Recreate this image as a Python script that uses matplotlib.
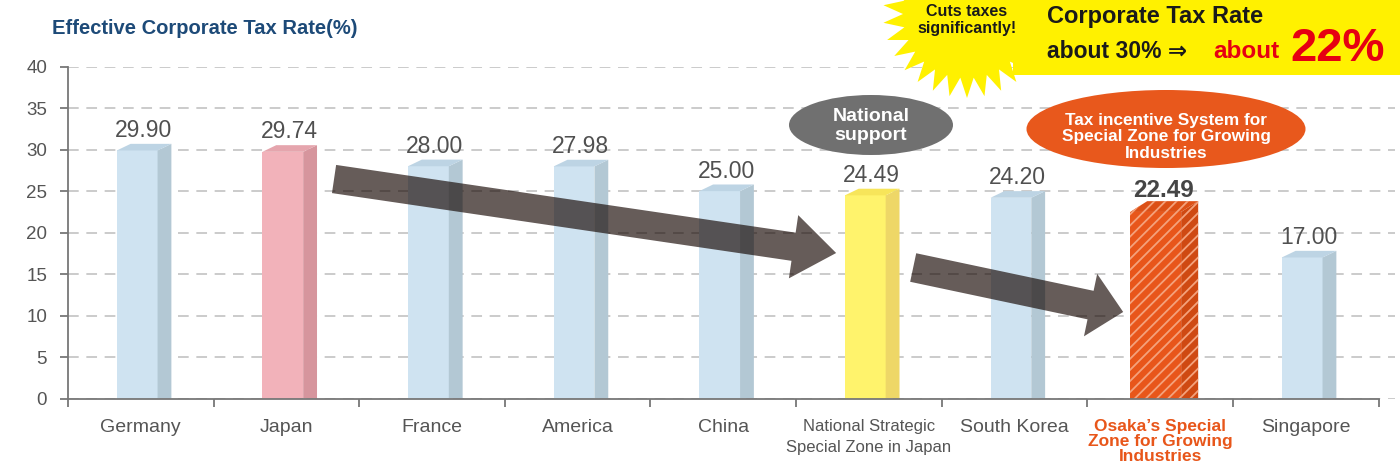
import numpy as np
import matplotlib.pyplot as plt
from matplotlib.patches import Polygon, Ellipse, Rectangle

plt.rcParams['font.family'] = ['Liberation Sans', 'DejaVu Sans']
plt.rcParams['hatch.linewidth'] = 1.3

# data
countries = ['Germany', 'Japan', 'France', 'America', 'China',
             'National Strategic\nSpecial Zone in Japan', 'South Korea',
             'Osaka\u2019s Special\nZone for Growing\nIndustries', 'Singapore']
tax_rates = [29.90, 29.74, 28.00, 27.98, 25.00, 24.49, 24.20, 22.49, 17.00]
y_ticks = [0, 5, 10, 15, 20, 25, 30, 35, 40]
title = 'Effective Corporate Tax Rate(%)'

# bar colours: front, side, top
blue = ('#cfe3f1', '#b3c8d4', '#bdd4e4')
pink = ('#f2b2ba', '#d6959d', '#e5a5ad')
yellow = ('#fff36c', '#eed767', '#f7e55a')
orange = ('#e8561a', '#cf4912', '#dc5016')
bar_colors = [blue, pink, blue, blue, blue, yellow, blue, orange, blue]
osaka = 7

fig = plt.figure(figsize=(14, 4.7), dpi=100)
ax = fig.add_axes([68 / 1400, (470 - 398.5) / 470, (1395 - 68) / 1400, (398.5 - 66.7) / 470])
x = np.arange(len(countries))
ax.set_xlim(-0.5, 8.5 + (1395 - 1378.6) / 145.6)
ax.set_ylim(0, 40)

# pseudo 3d bars
for i, v in enumerate(tax_rates):
    front, side, top = bar_colors[i]
    big = i == osaka
    fw = 0.35 if big else 0.28
    sw = 0.117 if big else 0.095
    dy = 1.3 if big else 0.8
    xl = i - (0.206 if big else 0.165)
    xr = xl + fw
    hatch = '///' if big else None
    ec = '#f4a27c' if big else 'none'
    ax.bar(xl, v, width=fw, align='edge', color=front, hatch=hatch,
           edgecolor=ec, linewidth=0, zorder=2)
    ax.add_patch(Polygon([(xr, 0), (xr + sw, 0), (xr + sw, v + dy), (xr, v)],
                         facecolor=side, hatch=hatch, edgecolor=ec, linewidth=0, zorder=2))
    ax.add_patch(Polygon([(xl, v), (xr, v), (xr + sw, v + dy), (xl + sw, v + dy)],
                         facecolor=top, hatch=hatch, edgecolor=ec, linewidth=0, zorder=2))
    if big:
        ax.text(i + 0.02, v + 2.6, f'{v:.2f}', ha='center', va='center',
                fontsize=17.5, fontweight='bold', color='#454545', zorder=4)
    else:
        ax.text(i + 0.02, v + 2.4, f'{v:.2f}', ha='center', va='center',
                fontsize=16.5, color='#505050', zorder=4)

# arrows
arrow_kw = dict(arrowstyle='simple,head_length=31,head_width=46,tail_width=20.5',
                mutation_scale=1, color='#140500', alpha=0.65, lw=0,
                shrinkA=0, shrinkB=0)
ax.annotate('', xy=(4.775, 17.54), xytext=(1.327, 26.46), arrowprops=arrow_kw, zorder=3)
arrow_kw['arrowstyle'] = 'simple,head_length=24,head_width=46,tail_width=21'
ax.annotate('', xy=(6.746, 10.43), xytext=(5.304, 15.79), arrowprops=arrow_kw, zorder=3)

# axes styling
ax.set_axisbelow(True)
ax.grid(axis='y', color='#bdbdbd', lw=1.1, ls=(0, (7, 5)))
for s in ['top', 'right']:
    ax.spines[s].set_visible(False)
for s in ['left', 'bottom']:
    ax.spines[s].set_color('#777777')
    ax.spines[s].set_linewidth(1.3)
ax.spines['bottom'].set_bounds(-0.5, 8.5)
ax.set_yticks(y_ticks)
ax.set_xticks(np.arange(-0.5, 9, 1))
ax.set_xticklabels([])
ax.set_xticks(x, countries, minor=True)
ax.tick_params(axis='y', length=6, width=1.3, color='#777777', labelsize=13.5,
               labelcolor='#555555', pad=9)
ax.tick_params(axis='x', which='major', length=6, width=1.3, color='#777777')
ax.tick_params(axis='x', which='minor', length=0, pad=15, labelsize=14,
               labelcolor='#555555')
labels = ax.get_xticklabels(minor=True)
labels[5].set_fontsize(12)
labels[5].set_linespacing(1.5)
labels[osaka].set_color('#e8561a')
labels[osaka].set_fontweight('bold')
labels[osaka].set_fontsize(12.5)
labels[osaka].set_linespacing(1.0)

fig.text(52 / 1400, 1 - 28 / 470, title, color='#1d4a78', fontsize=14.5,
         fontweight='bold', va='center')

# decorations in pixel space
deco = fig.add_axes([0, 0, 1, 1], zorder=5)
deco.set_xlim(0, 1400)
deco.set_ylim(470, 0)
deco.axis('off')

n = 30
ang = np.linspace(0, 2 * np.pi, 2 * n, endpoint=False) + np.pi / 2
rad = np.where(np.arange(2 * n) % 2 == 0, 84, 64)
deco.add_patch(Polygon(np.column_stack([967 + rad * np.cos(ang), 14 + rad * np.sin(ang)]),
                       color='#fff100', lw=0))
deco.add_patch(Rectangle((1013, 0), 387, 75, color='#fff100', lw=0))
deco.text(967, 20, 'Cuts taxes\nsignificantly!', ha='center', va='center',
          fontsize=11.5, fontweight='bold', color='#1a1a1a', linespacing=1.15)
deco.text(1047, 17, 'Corporate Tax Rate', ha='left', va='center', fontsize=17,
          fontweight='bold', color='#1a1a1a')
deco.text(1047, 58, 'about 30% \u21d2', ha='left', va='baseline', fontsize=16.5,
          fontweight='bold', color='#1a1a1a')
deco.text(1213, 58, 'about', ha='left', va='baseline', fontsize=17.5,
          fontweight='bold', color='#e60012')
deco.text(1290, 61, '22%', ha='left', va='baseline', fontsize=34,
          fontweight='bold', color='#e60012')

deco.add_patch(Ellipse((871, 125), 164, 60, color='#707070', lw=0))
deco.text(871, 126, 'National\nsupport', ha='center', va='center', fontsize=14,
          fontweight='bold', color='white', linespacing=1.2)
deco.add_patch(Ellipse((1166, 129), 279, 78, color='#e8581c', lw=0))
deco.text(1166, 137, 'Tax incentive System for\nSpecial Zone for Growing\nIndustries',
          ha='center', va='center', fontsize=12.4, fontweight='bold',
          color='white', linespacing=1.15)

fig.savefig('out.png', dpi=100)
